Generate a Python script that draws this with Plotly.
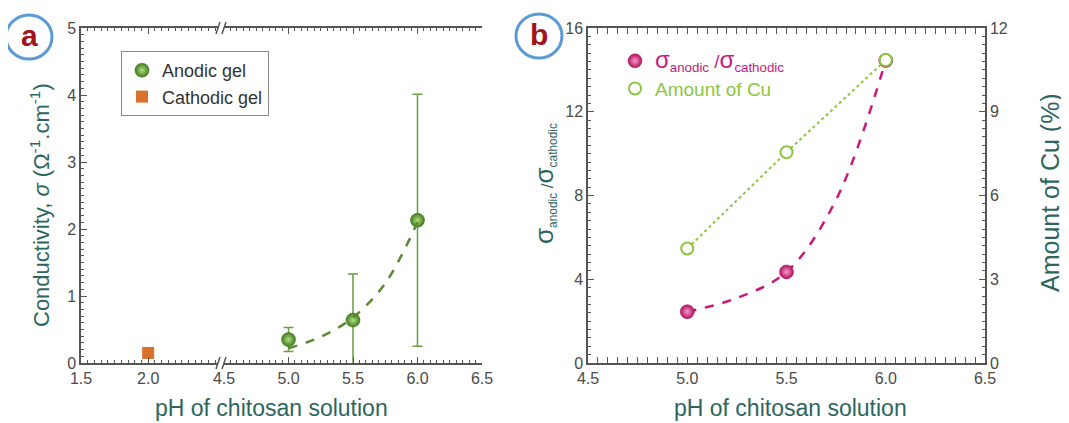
import plotly.graph_objects as go

# ---------------- data ----------------
# panel a
cath_ph = [2.0]
cath_sigma = [0.15]
anod_ph = [5.0, 5.5, 6.0]
anod_sigma = [0.35, 0.64, 2.13]
anod_err = [0.18, 0.69, 1.88]
fit_a_ph = [5.0, 5.25, 5.5, 5.75, 6.0]
fit_a_sigma = [0.22, 0.39, 0.68, 1.19, 2.10]
# panel b
b_ph = [5.0, 5.5, 6.0]
ratio = [2.45, 4.35, 14.45]
cu_amount = [4.1, 7.55, 10.85]
fit_b_ph = [5.0, 5.25, 5.5, 5.75, 6.0]
fit_b_ratio = [2.45, 3.1, 4.35, 7.8, 14.45]

a_xticks_left = [1.5, 2.0]
a_xticks_right = [4.5, 5.0, 5.5, 6.0, 6.5]
b_xticks = [4.5, 5.0, 5.5, 6.0, 6.5]

W, H = 1069, 423
OFF = 8  # page body margin


def px(x):
    return (x - OFF) / W


def py(y):
    return 1 - (y - OFF) / H


FONT = "Arial, Liberation Sans, sans-serif"
TICKC = "#4a4a4a"
TITLEC = "#2d6660"
AXC = "#555555"
ORANGE = "#d9712a"
MAG = "#c8197a"
LGREEN = "#8cc63f"

fig = go.Figure()

# ---- panel a traces ----
fig.add_trace(go.Scatter(
    x=anod_ph, y=anod_sigma, mode="markers", name="Anodic gel",
    xaxis="x2", yaxis="y",
    error_y=dict(type="data", array=anod_err, color="#6a9e3c", thickness=1.5, width=5),
    marker=dict(size=14, color="#3f7d1c", gradient=dict(type="radial", color="#b3dd80"),
                line=dict(color="#356b17", width=0.5)),
    legend="legend"))
fig.add_trace(go.Scatter(
    x=cath_ph, y=cath_sigma, mode="markers", name="Cathodic gel",
    xaxis="x", yaxis="y",
    marker=dict(size=12, symbol="square", color=ORANGE),
    legend="legend"))
fig.add_trace(go.Scatter(
    x=fit_a_ph, y=fit_a_sigma, mode="lines", showlegend=False,
    xaxis="x2", yaxis="y",
    line=dict(color="#5a8a30", width=2.5, dash="dash", shape="spline")))

# ---- panel b traces ----
fig.add_trace(go.Scatter(
    x=fit_b_ph, y=fit_b_ratio, mode="lines", showlegend=False,
    xaxis="x3", yaxis="y4",
    line=dict(color=MAG, width=2.5, dash="dash", shape="spline")))
fig.add_trace(go.Scatter(
    x=b_ph, y=cu_amount, mode="lines", showlegend=False,
    xaxis="x3", yaxis="y5",
    line=dict(color=LGREEN, width=2, dash="dot")))
fig.add_trace(go.Scatter(
    x=b_ph, y=cu_amount, mode="markers",
    name="<span style='color:%s'>Amount of Cu</span>" % LGREEN,
    xaxis="x3", yaxis="y5",
    marker=dict(size=12, color="white", line=dict(color=LGREEN, width=2)),
    legend="legend2"))
fig.add_trace(go.Scatter(
    x=b_ph, y=ratio, mode="markers",
    name="<span style='color:%s'><span style='font-size:24px'>σ</span><sub>anodic</sub> /<span style='font-size:24px'>σ</span><sub>cathodic</sub></span>" % MAG,
    xaxis="x3", yaxis="y4",
    marker=dict(size=14, color="#b3105f", gradient=dict(type="radial", color="#f59ac8"),
                line=dict(color="#9c0d52", width=0.5)),
    legend="legend2"))

tickfont = dict(family=FONT, size=16, color=TICKC)
common = dict(showline=True, linecolor=AXC, linewidth=1.5, ticks="inside",
              tickcolor=AXC, ticklen=6, tickwidth=1.2, tickfont=tickfont,
              showgrid=False, zeroline=False, automargin=False)
minor_c = dict(ticks="inside", ticklen=3, tickcolor=AXC)

ybot, ytop = py(363), py(28)

fig.update_layout(
    width=W, height=H, margin=dict(l=0, r=0, t=0, b=0, autoexpand=False),
    paper_bgcolor="white", plot_bgcolor="white",
    font=dict(family=FONT),
    xaxis=dict(domain=[px(81), px(218)], range=[1.5, 2.52], anchor="y",
               tickvals=a_xticks_left, tickformat=".1f", mirror="allticks",
               minor=dict(dtick=0.05, tick0=1.5, **minor_c), **common),
    xaxis2=dict(domain=[px(224), px(482)], range=[4.5, 6.5], anchor="y",
                tickvals=a_xticks_right, tickformat=".1f", mirror="allticks",
                minor=dict(dtick=0.05, tick0=4.5, **minor_c), **common),
    yaxis=dict(domain=[ybot, ytop], range=[0, 5], anchor="x", dtick=1,
               minor=dict(dtick=0.1, **minor_c), **common),
    yaxis3=dict(domain=[ybot, ytop], range=[0, 5], anchor="x2", overlaying="y",
                side="right", dtick=1, showticklabels=False,
                minor=dict(dtick=0.1, **minor_c), **common),
    xaxis3=dict(domain=[px(588), px(985)], range=[4.5, 6.5], anchor="y4",
                tickvals=b_xticks, tickformat=".1f", mirror="allticks",
                minor=dict(dtick=0.05, tick0=4.5, **minor_c), **common),
    yaxis4=dict(domain=[ybot, ytop], range=[0, 16], anchor="x3", dtick=4,
                minor=dict(dtick=0.4, **minor_c), **common),
    yaxis5=dict(domain=[ybot, ytop], range=[0, 12], anchor="x3", overlaying="y4",
                side="right", dtick=3,
                minor=dict(dtick=0.3, **minor_c), **common),
    legend=dict(x=px(121), y=py(51), xanchor="left", yanchor="top",
                bordercolor="#888888", borderwidth=1, bgcolor="white",
                font=dict(family=FONT, size=18, color="#333333"),
                itemwidth=30, tracegroupgap=0),
    legend2=dict(x=px(615), y=py(42), xanchor="left", yanchor="top",
                 borderwidth=0, bgcolor="rgba(0,0,0,0)",
                 font=dict(family=FONT, size=19, color="#333333"),
                 itemwidth=30, traceorder="reversed"),
    showlegend=True,
)

annotations = []
title_font = dict(family=FONT, size=23, color=TITLEC)
ann_c = dict(xref="paper", yref="paper", showarrow=False, xanchor="center", yanchor="middle")
annotations.append(dict(text="pH of chitosan solution", x=px(271), y=py(408),
                        font=title_font, **ann_c))
annotations.append(dict(text="pH of chitosan solution", x=px(790), y=py(408),
                        font=title_font, **ann_c))
annotations.append(dict(text="Conductivity, <i>σ</i> (Ω<sup>-1</sup>.cm<sup>-1</sup>)",
                        x=px(40), y=py(205), textangle=-90,
                        font=dict(family=FONT, size=22, color=TITLEC), **ann_c))
annotations.append(dict(text="<span style='font-size:26px'>σ</span><sub>anodic</sub> /<span style='font-size:26px'>σ</span><sub>cathodic</sub>",
                        x=px(545), y=py(184), textangle=-90,
                        font=dict(family=FONT, size=17, color=TITLEC), **ann_c))
annotations.append(dict(text="Amount of Cu (%)", x=px(1050), y=py(193), textangle=-90,
                        font=dict(family=FONT, size=25, color=TITLEC), **ann_c))
# panel labels
for lab, cx, cy in [("a", 29, 37), ("b", 539, 36)]:
    annotations.append(dict(text="<b>%s</b>" % lab, x=px(cx), y=py(cy - 1),
                            font=dict(family=FONT, size=30, color="#a0151c"), **ann_c))
fig.update_layout(annotations=annotations)

shapes = []
for cx, cy in [(29, 37), (539, 36)]:
    shapes.append(dict(type="circle", xref="paper", yref="paper",
                       x0=px(cx - 23), x1=px(cx + 23), y0=py(cy + 22), y1=py(cy - 22),
                       line=dict(color="#5b9bd5", width=3)))
# axis break marks
for ycen in (28, 363):
    for xo in (216, 222):
        shapes.append(dict(type="line", xref="paper", yref="paper",
                           x0=px(xo), y0=py(ycen + 6), x1=px(xo + 4), y1=py(ycen - 6),
                           line=dict(color=AXC, width=1.5)))
fig.update_layout(shapes=shapes)

fig.write_html("out.html")
